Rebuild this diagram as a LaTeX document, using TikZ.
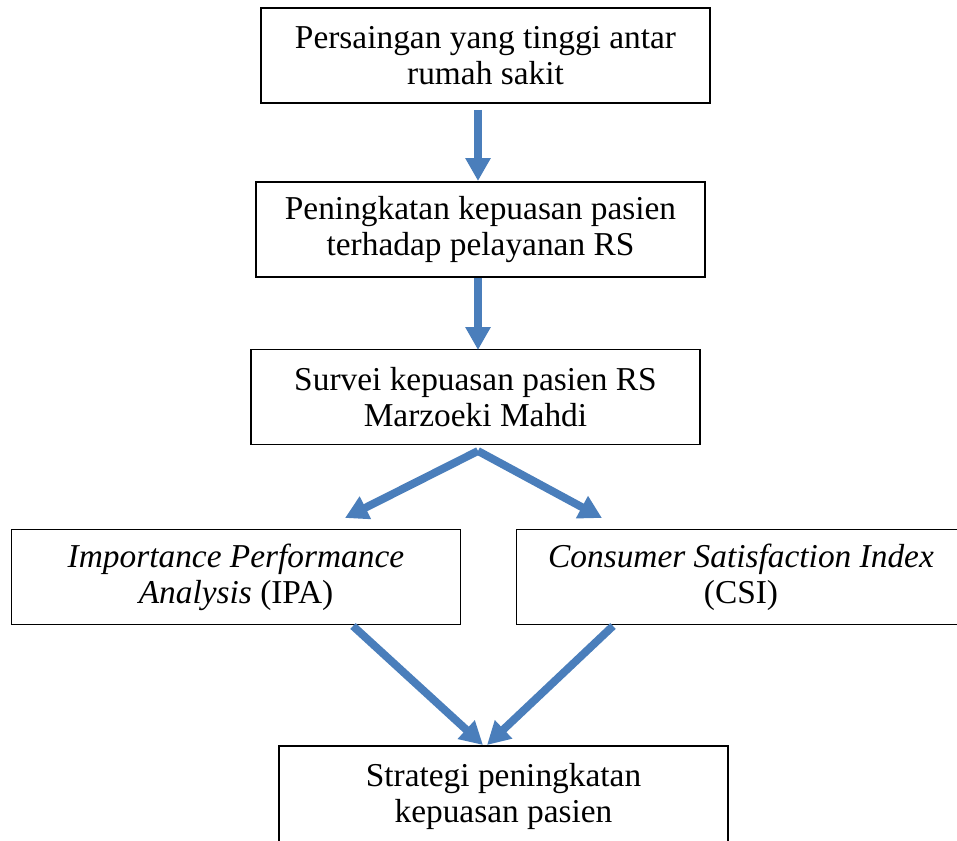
\documentclass[tikz,border=0pt]{standalone}
\usepackage{fontspec}
\setmainfont{Liberation Serif}
\usepackage{xcolor}
\usepackage{tikz}
\usetikzlibrary{arrows.meta}
\definecolor{flowblue}{HTML}{4A7EBB}
\tikzset{
	box/.style={
		draw,
		line width=0.8pt,
		minimum width=8.98cm,
		minimum height=1.9cm,
		align=center,
		font=\fontsize{19}{20.5}\selectfont
	},
	flow/.style={
		draw=flowblue,
		line width=4.5pt,
		-{Triangle[width=13.6pt,length=13pt]}
	}
}

\begin{document}
\begin{tikzpicture}[x=0.02cm,y=-0.02cm]
\useasboundingbox (0,0) rectangle (957,841);
\node[box] (saing) at (485.5,55.5) {Persaingan yang tinggi antar\\rumah sakit};
\node[box] (puas) at (480.5,229.5) {Peningkatan kepuasan pasien\\terhadap pelayanan RS};
\node[box] (survei) at (475.5,397) {Survei kepuasan pasien RS\\Marzoeki Mahdi};
\node[box] (ipa) at (236,577) {\textit{Importance Performance}\\\textit{Analysis} (IPA)};
\node[box] (csi) at (741,577) {\textit{Consumer Satisfaction Index}\\(CSI)};
\node[box, minimum height=2cm] (strat) at (503.5,796) {Strategi peningkatan\\kepuasan pasien};

% arrow ends
\coordinate (t1) at (478,110);
\coordinate (h1) at (478,181);
\coordinate (t2) at (478,278);
\coordinate (h2) at (478,350);
\coordinate (t3) at (478,451);
\coordinate (hipa) at (345,518);
\coordinate (hcsi) at (602,518);
\coordinate (tipa) at (353,626);
\coordinate (tcsi) at (613,626);
\coordinate (hs1) at (483,745);
\coordinate (hs2) at (487,745);

\draw[flow] (t1) -- (h1);
\draw[flow] (t2) -- (h2);
\draw[flow] (t3) -- (hipa);
\draw[flow] (t3) -- (hcsi);
\draw[flow] (tipa) -- (hs1);
\draw[flow] (tcsi) -- (hs2);
\end{tikzpicture}
\end{document}
